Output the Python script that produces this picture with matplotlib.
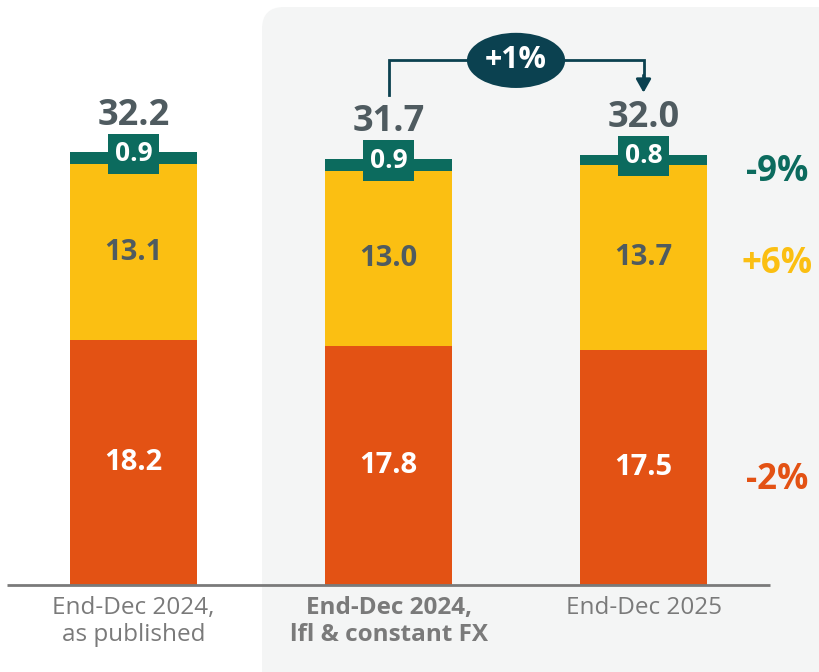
import matplotlib.pyplot as plt
from matplotlib.patches import FancyBboxPatch, Ellipse

plt.rcParams['font.family'] = ['Open Sans', 'DejaVu Sans']

categories = ["End-Dec 2024,\nas published", "End-Dec 2024,\nlfl & constant FX", "End-Dec 2025"]
bottom_vals = [18.2, 17.8, 17.5]
middle_vals = [13.1, 13.0, 13.7]
top_vals = [0.9, 0.9, 0.8]
totals = [32.2, 31.7, 32.0]
changes = ["-9%", "+6%", "-2%"]
total_change = "+1%"

orange = "#E35214"
yellow = "#FBBF12"
teal = "#0C6B5E"
navy = "#0B4150"
dark_gray = "#4F5B60"
light_gray = "#7A7A7A"

fig = plt.figure(figsize=(8.2, 6.72), dpi=100)

# background panel in pixel units
bg = fig.add_axes([0, 0, 1, 1])
bg.set_xlim(0, 820)
bg.set_ylim(672, 0)
bg.axis("off")
bg.add_patch(FancyBboxPatch((262, 7), 620, 720,
                            boxstyle="round,pad=0,rounding_size=22",
                            fc="#F4F5F5", ec="none"))

ax = fig.add_axes([0, 0, 1, 1])
ax.patch.set_alpha(0)
ax.set_xlim(-0.5235, 2.692)
ax.set_ylim(-6.47, 43.49)
ax.axis("off")

x = list(range(len(categories)))
mid_bottom = [b for b in bottom_vals]
top_bottom = [b + m for b, m in zip(bottom_vals, middle_vals)]

ax.bar(x, bottom_vals, width=0.5, color=orange, zorder=2)
ax.bar(x, middle_vals, width=0.5, bottom=mid_bottom, color=yellow, zorder=2)
ax.bar(x, top_vals, width=0.5, bottom=top_bottom, color=teal, zorder=2)

ax.plot([-0.496, 2.496], [0, 0], color=light_gray, lw=2, zorder=3,
        solid_capstyle="butt")

for i in x:
    ax.text(i, bottom_vals[i] / 2, f"{bottom_vals[i]:.1f}", ha="center", va="center",
            color="white", fontsize=21, fontweight="bold", zorder=4)
    ax.text(i, mid_bottom[i] + middle_vals[i] / 2, f"{middle_vals[i]:.1f}", ha="center",
            va="center", color=dark_gray, fontsize=21, fontweight="bold", zorder=4)
    # small top value sits in a teal tag over the thin segment
    ax.text(i, top_bottom[i] + top_vals[i] / 2 + 0.3, f"{top_vals[i]:.1f}", ha="center",
            va="center", color="white", fontsize=19, fontweight="bold", zorder=4,
            bbox=dict(boxstyle="square,pad=0.26", fc=teal, ec="none"))
    ax.text(i, totals[i] + 2.7, f"{totals[i]:.1f}", ha="center", va="center",
            color=dark_gray, fontsize=26, fontweight="bold", zorder=4)
    ax.text(i, -0.85, categories[i], ha="center", va="top", color=light_gray,
            fontsize=17.5, fontweight="bold" if i == 1 else "normal",
            linespacing=1.15, zorder=4)

# change labels on the right
change_y = [30.7, 23.85, 7.8]
change_col = [teal, yellow, orange]
for lab, yy, c in zip(changes, change_y, change_col):
    ax.text(2.525, yy, lab, ha="center", va="center", color=c,
            fontsize=25, fontweight="bold", zorder=4)

# bracket arrow between bars 2 and 3
ax.plot([1, 1, 2, 2], [36.4, 39.0, 39.0, 37.6], color=navy, lw=2,
        solid_joinstyle="miter", zorder=3)
ax.annotate("", xy=(2, 36.6), xytext=(2, 37.9),
            arrowprops=dict(arrowstyle="-|>,head_width=0.45,head_length=0.8",
                            color=navy, lw=2, shrinkA=0, shrinkB=0), zorder=3)
ax.add_patch(Ellipse((1.5, 39.0), 0.385, 4.1, fc=navy, ec="none", zorder=4))
ax.text(1.5, 39.0, total_change, ha="center", va="center", color="white",
        fontsize=22, fontweight="bold", zorder=5)

fig.savefig("out.png", dpi=100)
